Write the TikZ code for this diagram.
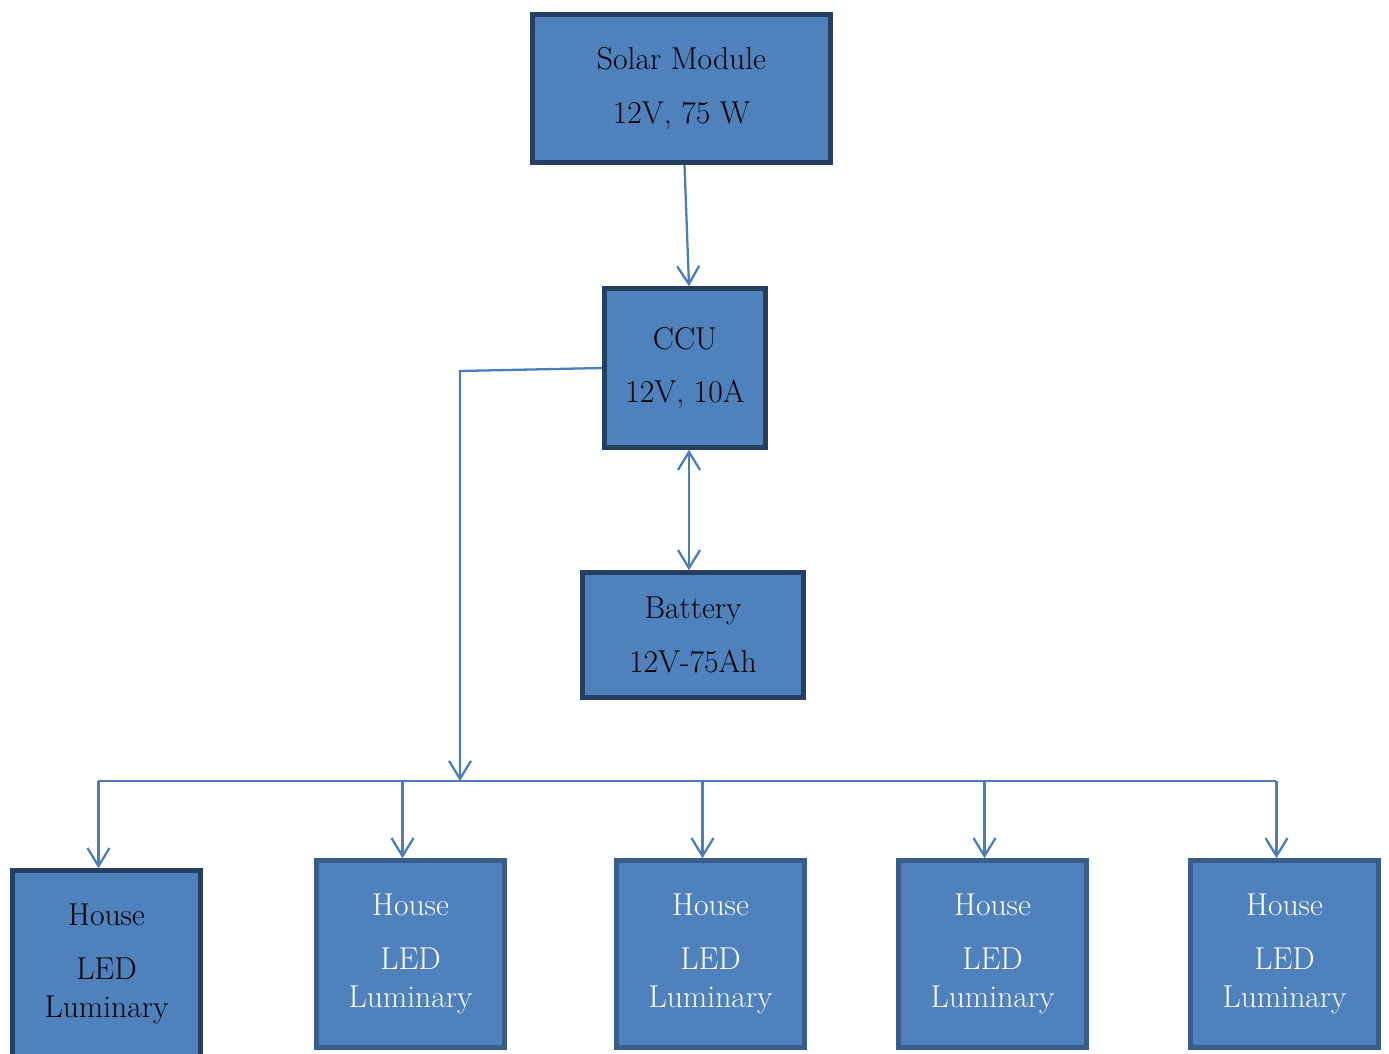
\documentclass[tikz,border=0pt]{standalone}
\usepackage{tikz}
\usetikzlibrary{arrows.meta, positioning, calc}
\definecolor{boxfill}{HTML}{4F81BD}
\definecolor{boxdark}{HTML}{243F60}
\definecolor{boxedge}{HTML}{385D8A}
\definecolor{wirecol}{HTML}{4A7EBB}

\begin{document}
\begin{tikzpicture}[x=0.02cm,y=-0.02cm,
  >={Straight Barb[length=3.6mm,width=4.4mm]},
  block/.style={draw=boxdark,fill=boxfill,line width=2.6pt,align=center,
    inner sep=0pt,font=\fontsize{18}{22}\selectfont},
  lamp/.style={block,draw=boxedge,text=white,minimum width=3.76cm,minimum height=3.74cm},
  link/.style={draw=wirecol,line width=1.3pt}]
  \clip (0,0) rectangle (1389,1054);
  % source side
  \node[block,minimum width=5.96cm,minimum height=2.96cm] (solar) at (681.5,88.5)
    {Solar Module\\[8.6pt]12V, 75 W};
  \node[block,minimum width=3.22cm,minimum height=3.18cm] (ccu) at (685,368)
    {CCU\\[8.6pt]12V, 10A};
  \node[block,minimum width=4.42cm,minimum height=2.5cm] (batt) at (693,635)
    {Battery\\[8.6pt]12V-75Ah};
  % loads
  \node[lamp,draw=boxdark,text=black] (h1) at (106.5,964) {House\\[8.6pt]LED\\Luminary};
  \node[lamp] (h2) at (410.5,954) {House\\[8.6pt]LED\\Luminary};
  \node[lamp] (h3) at (710.5,954) {House\\[8.6pt]LED\\Luminary};
  \node[lamp] (h4) at (992.5,954) {House\\[8.6pt]LED\\Luminary};
  \node[lamp] (h5) at (1284.5,954) {House\\[8.6pt]LED\\Luminary};
  % wiring
  \coordinate (tap) at (460,371);
  \coordinate (busW) at (98,781);
  \coordinate (busE) at (1276,781);
  \draw[link,->] ($(solar.south)+(3,0)$) -- ($(ccu.north)+(4,0)$);
  \draw[link,<->] ($(ccu.south)+(4,0)$) -- ($(batt.north)+(-4,0)$);
  \draw[link,->] (ccu.west) -- (tap) -- (tap |- busW);
  \draw[link] (busW) -- (busE);
  \foreach \i in {1,...,5}
    \draw[link,->] ($(h\i.north |- busW)+(-8,0)$) -- ($(h\i.north)+(-8,0)$);
\end{tikzpicture}
\end{document}
